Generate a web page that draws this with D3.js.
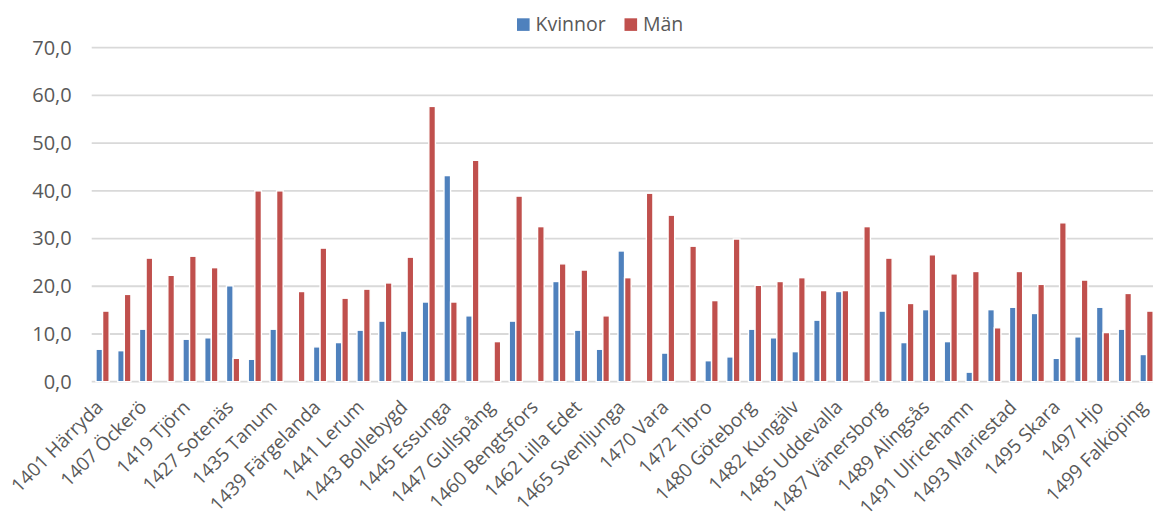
<!DOCTYPE html>
<html><head><meta charset="utf-8">
<script src="https://cdn.jsdelivr.net/npm/d3@7"></script>
<style>body{margin:0;background:#fff;overflow:hidden}svg{display:block}</style>
</head><body>
<svg id="chart" width="1153" height="523"></svg>
<script>
const categories = ["1401 Härryda","1402 Partille","1407 Öckerö","1415 Stenungsund","1419 Tjörn","1421 Orust","1427 Sotenäs","1430 Munkedal","1435 Tanum","1438 Dals-Ed","1439 Färgelanda","1440 Ale","1441 Lerum","1442 Vårgårda","1443 Bollebygd","1444 Grästorp","1445 Essunga","1446 Karlsborg","1447 Gullspång","1452 Tranemo","1460 Bengtsfors","1461 Mellerud","1462 Lilla Edet","1463 Mark","1465 Svenljunga","1466 Herrljunga","1470 Vara","1471 Götene","1472 Tibro","1473 Töreboda","1480 Göteborg","1481 Mölndal","1482 Kungälv","1484 Lysekil","1485 Uddevalla","1486 Strömstad","1487 Vänersborg","1488 Trollhättan","1489 Alingsås","1490 Borås","1491 Ulricehamn","1492 Åmål","1493 Mariestad","1494 Lidköping","1495 Skara","1496 Skövde","1497 Hjo","1498 Tidaholm","1499 Falköping"];
const kvinnor = [6.8,6.5,11.0,0,8.9,9.2,20.1,4.7,11.0,0,7.3,8.2,10.8,12.7,10.6,16.7,43.2,13.8,0,12.7,0,21.0,10.8,6.8,27.4,0,6.0,0,4.4,5.2,11.0,9.2,6.3,12.9,18.9,0,14.8,8.2,15.1,8.4,2.0,15.1,15.6,14.3,4.9,9.4,15.6,11.0,5.7];
const man = [14.8,18.3,25.9,22.3,26.3,23.9,4.9,40.0,40.0,18.9,28.0,17.5,19.4,20.7,26.1,57.7,16.7,46.4,8.4,38.9,32.5,24.7,23.4,13.8,21.8,39.5,34.9,28.4,17.0,29.9,20.2,21.0,21.8,19.1,19.1,32.5,25.9,16.4,26.6,22.6,23.1,11.3,23.1,20.4,33.3,21.3,10.3,18.5,14.8];
const seriesNames = ["Kvinnor","Män"];
const colors = ["#4F81BD","#C0504D"];
const yTicks = [0,10,20,30,40,50,60,70];

const svg = d3.select("#chart");
const font = "'Open Sans', sans-serif";
const textColor = "#595959";

const x = d3.scaleBand().domain(categories).range([91.7, 91.7 + 49*21.75]).padding(0);
const y = d3.scaleLinear().domain([0,70]).range([381.7, 47.7]);
const barW = 6.6;
const x1 = d3.scaleBand().domain(seriesNames).range([x.bandwidth()/2 - barW, x.bandwidth()/2 + barW]);

// gridlines
svg.append("g").selectAll("line").data(yTicks).join("line")
  .attr("x1", 91.7).attr("x2", 1153)
  .attr("y1", d => y(d)).attr("y2", d => y(d))
  .attr("stroke", "#d9d9d9").attr("stroke-width", 1.8);

// y labels
const yAxis = d3.axisLeft(y).tickValues(yTicks).tickSize(0).tickPadding(0)
  .tickFormat(d => d3.format(".1f")(d).replace(".", ","));
const ya = svg.append("g").attr("transform", "translate(71.7,0)").call(yAxis);
ya.select(".domain").remove();
ya.selectAll("text").attr("font-family", font).attr("font-size", 20).attr("fill", textColor);

// bars
const data = categories.map((c,i) => ({c, vals: [kvinnor[i], man[i]]}));
const groups = svg.append("g").selectAll("g").data(data).join("g")
  .attr("transform", d => `translate(${x(d.c)},0)`);
groups.selectAll("rect").data(d => d.vals.map((v,j) => ({v, s: seriesNames[j], j})))
  .join("rect")
  .attr("x", d => x1(d.s))
  .attr("width", x1.bandwidth())
  .attr("y", d => y(d.v))
  .attr("height", d => y(0) - y(d.v))
  .attr("fill", d => colors[d.j])
  .attr("stroke", d => d.v > 0 ? "#fff" : "none")
  .attr("stroke-width", 1.4);

// x labels (every other category)
const xAxis = d3.axisBottom(x).tickValues(categories.filter((c,i) => i % 2 === 0)).tickSize(0).tickPadding(0);
const xa = svg.append("g").attr("transform", "translate(0,381.7)").call(xAxis);
xa.select(".domain").remove();
xa.selectAll("text")
  .attr("font-family", font).attr("font-size", 19).attr("fill", textColor)
  .attr("text-anchor", "end")
  .attr("dy", "0.35em")
  .attr("transform", "translate(-3,22) rotate(-45)");

// legend
const legend = svg.append("g");
const lx = [517, 624.5];
seriesNames.forEach((s,i) => {
  legend.append("rect").attr("x", lx[i]).attr("y", 18.3).attr("width", 12.6).attr("height", 12.6).attr("fill", colors[i]);
  legend.append("text").attr("x", lx[i] + 18.5).attr("y", 24.6).attr("dy", "0.35em")
    .attr("font-family", font).attr("font-size", 19.5).attr("fill", textColor).text(s);
});
</script>
</body></html>
